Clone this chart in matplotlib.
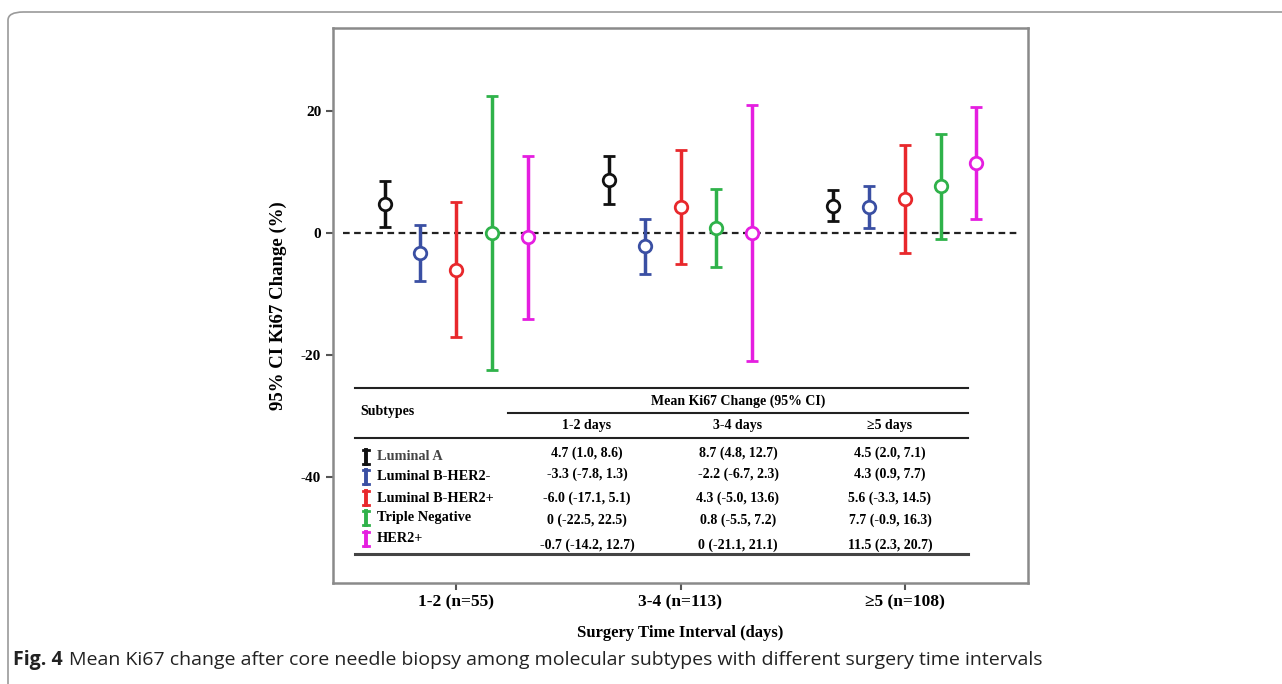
import numpy as np
import matplotlib.pyplot as plt
from matplotlib.patches import FancyBboxPatch

plt.rcParams['axes.unicode_minus'] = False

groups = ['1-2 (n=55)', '3-4 (n=113)', '\u22655 (n=108)']
col_heads = ['1-2 days', '3-4 days', '\u22655 days']
subtypes = ['Luminal A', 'Luminal B-HER2-', 'Luminal B-HER2+', 'Triple Negative', 'HER2+']
colors = ['#111111', '#3a4fa3', '#e8282c', '#2fb24a', '#e51ee0']

means = [[4.7, 8.7, 4.5],
         [-3.3, -2.2, 4.3],
         [-6.0, 4.3, 5.6],
         [0.0, 0.8, 7.7],
         [-0.7, 0.0, 11.5]]
lows = [[1.0, 4.8, 2.0],
        [-7.8, -6.7, 0.9],
        [-17.1, -5.0, -3.3],
        [-22.5, -5.5, -0.9],
        [-14.2, -21.1, 2.3]]
highs = [[8.6, 12.7, 7.1],
         [1.3, 2.3, 7.7],
         [5.1, 13.6, 14.5],
         [22.5, 7.2, 16.3],
         [12.7, 21.1, 20.7]]

W, H = 1282, 684
SERIF = 'Liberation Serif'

fig = plt.figure(figsize=(W / 100, H / 100), dpi=100)

# outer rounded frame
fig.patches.append(FancyBboxPatch((8 / W, -0.05), 1.2, 0.05 + (H - 12) / H,
                                  boxstyle='round,pad=0,rounding_size=0.012',
                                  transform=fig.transFigure, fill=False,
                                  ec='#9a9a9a', lw=1.2))

ax_l, ax_r, ax_t, ax_b = 333, 1028, 28, 583
ax = fig.add_axes([ax_l / W, 1 - ax_b / H, (ax_r - ax_l) / W, (ax_b - ax_t) / H])

x = np.arange(len(groups))
offsets = np.linspace(-0.32, 0.32, len(subtypes))
for i, name in enumerate(subtypes):
    m = np.array(means[i])
    lo = np.array(lows[i])
    hi = np.array(highs[i])
    ax.errorbar(x + offsets[i], m, yerr=[m - lo, hi - m], fmt='o', color=colors[i],
                mfc='white', mec=colors[i], mew=2, ms=9, elinewidth=2.5,
                capsize=4, capthick=2.5, zorder=3)

ax.axhline(0, color='#222222', lw=1.6, ls=(0, (3, 2)), xmin=0.015, xmax=0.985, zorder=2)

ax.set_xlim(-0.55, 2.55)
ax.set_ylim(-57.5, 33.7)
ax.set_yticks([20, 0, -20, -40])
ax.set_xticks(x)
ax.set_xticklabels(groups)
for s in ax.spines.values():
    s.set_color('#8a8a8a')
    s.set_linewidth(1.8)
ax.tick_params(axis='both', direction='out', length=5, width=1.5, color='#555555')
for lab in ax.get_yticklabels():
    lab.set_fontfamily(SERIF)
    lab.set_fontweight('bold')
    lab.set_fontsize(11)
for lab in ax.get_xticklabels():
    lab.set_fontfamily(SERIF)
    lab.set_fontweight('bold')
    lab.set_fontsize(12.5)
ax.set_ylabel('95% CI Ki67 Change (%)', fontfamily=SERIF, fontweight='bold',
              fontsize=13.5, labelpad=10)
ax.set_xlabel('Surgery Time Interval (days)', fontfamily=SERIF, fontweight='bold',
              fontsize=12, labelpad=10)


# table drawn inside the axes, positions given in pixels
def fx(px):
    return (px - ax_l) / (ax_r - ax_l)


def fy(py):
    return (ax_b - py) / (ax_b - ax_t)


def fmt(v):
    return '0' if v == 0 else '{:.1f}'.format(v)


T = ax.transAxes
ax.plot([fx(355), fx(968)], [fy(388), fy(388)], color='#222222', lw=1.5, transform=T)
ax.plot([fx(508), fx(968)], [fy(413), fy(413)], color='#222222', lw=1.5, transform=T)
ax.plot([fx(355), fx(968)], [fy(438), fy(438)], color='#222222', lw=1.5, transform=T)
ax.plot([fx(355), fx(968)], [fy(554), fy(554)], color='#444444', lw=2.2, transform=T)

tk = dict(fontfamily=SERIF, fontweight='bold', fontsize=10, transform=T, va='center')
ax.text(fx(360), fy(412), 'Subtypes', ha='left', **tk)
ax.text(fx(738), fy(401), 'Mean Ki67 Change (95% CI)', ha='center', **tk)
col_x = [587, 738, 890]
for cx, head in zip(col_x, col_heads):
    ax.text(fx(cx), fy(426), head, ha='center', **tk)

row_y = [453, 474, 498, 520, 545]
lab_y = [457, 477, 498, 518, 539]
for i, name in enumerate(subtypes):
    ax.text(fx(377), fy(lab_y[i]), name, ha='left', fontfamily=SERIF, fontweight='bold',
            fontsize=10.3, transform=T, va='center',
            color='#444444' if i == 0 else 'black')
    yc = lab_y[i]
    ax.plot([fx(366), fx(366)], [fy(yc - 7), fy(yc + 7)], color=colors[i], lw=2.8, transform=T)
    ax.plot([fx(363), fx(369)], [fy(yc - 7), fy(yc - 7)], color=colors[i], lw=2, transform=T)
    ax.plot([fx(363), fx(369)], [fy(yc + 7), fy(yc + 7)], color=colors[i], lw=2, transform=T)
    for j, cx in enumerate(col_x):
        txt = '{} ({}, {})'.format(fmt(means[i][j]), fmt(lows[i][j]), fmt(highs[i][j]))
        ax.text(fx(cx), fy(row_y[i]), txt, ha='center', **tk)

# caption
fig.text(13 / W, 1 - 660 / H, 'Fig. 4', fontfamily='Open Sans', fontweight='bold',
         fontsize=14, va='center', ha='left', color='#222222')
fig.text(69 / W, 1 - 660 / H,
         'Mean Ki67 change after core needle biopsy among molecular subtypes with different surgery time intervals',
         fontfamily='Open Sans', fontsize=14, va='center', ha='left', color='#222222')

fig.savefig('out.png', dpi=100)
